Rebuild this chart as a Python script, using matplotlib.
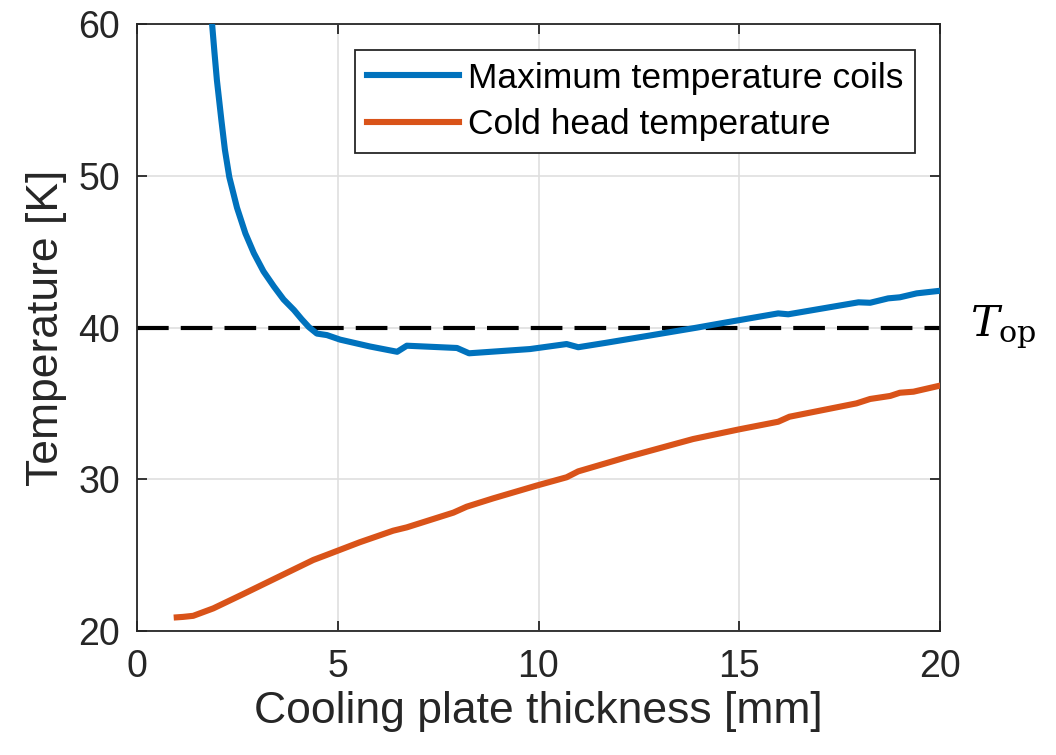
import numpy as np
import matplotlib
matplotlib.use("Agg")
import matplotlib.pyplot as plt

# Data
x_max = [1.87, 1.93, 1.99, 2.10, 2.19, 2.30, 2.49, 2.70, 2.91, 3.15, 3.41, 3.65, 3.91,
         4.10, 4.28, 4.48, 4.73, 5.06, 5.80, 6.48, 6.72, 7.97, 8.27, 9.79, 10.70, 10.99,
         11.70, 12.70, 13.94, 14.77, 15.97, 16.22, 17.97, 18.26, 18.71, 19.00,
         19.42, 20.00]
t_max = [60.0, 58.1, 56.3, 53.7, 51.7, 49.9, 47.9, 46.2, 44.9, 43.7, 42.7, 41.85, 41.15,
         40.55, 40.03, 39.6, 39.5, 39.2, 38.75, 38.4, 38.8, 38.65, 38.3, 38.58, 38.91, 38.70,
         39.0, 39.44, 39.99, 40.38, 40.93, 40.87, 41.66, 41.63, 41.92, 41.99,
         42.25, 42.42]

x_cold = [0.99, 1.15, 1.40, 1.90, 2.65, 3.48, 4.39, 4.72, 5.55, 6.38, 6.72, 7.88,
          8.21, 8.87, 9.95, 10.70, 10.99, 12.19, 13.85, 15.00, 15.97, 16.25, 17.92,
          18.26, 18.76, 19.00, 19.34, 20.00]
t_cold = [20.90, 20.93, 21.0, 21.49, 22.44, 23.51, 24.68, 25.01, 25.85, 26.61, 26.83,
          27.80, 28.19, 28.74, 29.58, 30.13, 30.52, 31.45, 32.65, 33.29, 33.79, 34.12,
          35.0, 35.29, 35.49, 35.70, 35.77, 36.17]

t_op = 40
labels = ["Maximum temperature coils", "Cold head temperature"]
xticks = [0, 5, 10, 15, 20]
yticks = [20, 30, 40, 50, 60]

plt.rcParams['font.family'] = ['Liberation Sans', 'DejaVu Sans']
plt.rcParams['mathtext.fontset'] = 'dejavuserif'

fig = plt.figure(figsize=(10.56, 7.55), dpi=100)
ax = fig.add_axes([137/1056, 1-631/755, (940-137)/1056, (631-24)/755])

ax.plot(x_max, t_max, color='#0072BD', lw=4.4, label=labels[0], solid_joinstyle='round', zorder=3)
ax.plot(x_cold, t_cold, color='#D95319', lw=4.4, label=labels[1], solid_joinstyle='round', zorder=3)
ax.axhline(t_op, color='black', lw=3, dashes=(7.6, 2.9), zorder=2)

ax.text(20.75, t_op, r'$T_{\mathrm{op}}$', fontsize=31, va='center', ha='left', color='black')

ax.set_xlim(0, 20)
ax.set_ylim(20, 60)
ax.set_xticks(xticks)
ax.set_yticks(yticks)
ax.grid(True, color='#DFDFDF', lw=1.2)
ax.set_axisbelow(True)
for s in ax.spines.values():
    s.set_color('#262626')
    s.set_linewidth(1.3)
ax.tick_params(direction='in', length=7, width=1.3, color='#262626',
               labelsize=27, labelcolor='#262626', top=True, right=True)
ax.tick_params(axis='x', pad=13)
ax.tick_params(axis='y', pad=12)
ax.set_xlabel('Cooling plate thickness [mm]', fontsize=32, color='#262626', labelpad=4)
ax.set_ylabel('Temperature [K]', fontsize=32, color='#262626', labelpad=8)

leg = ax.legend(loc='upper right', bbox_to_anchor=(915/1056, 1-50/755), bbox_transform=fig.transFigure,
                fontsize=25.5, fancybox=False, edgecolor='#262626', framealpha=1,
                handlelength=2.6, borderpad=0.33, labelspacing=0.38, handletextpad=0.25,
                borderaxespad=0)
leg.get_frame().set_linewidth(1.3)
for t in leg.get_texts():
    t.set_color('black')

fig.savefig('out.png', dpi=100)
